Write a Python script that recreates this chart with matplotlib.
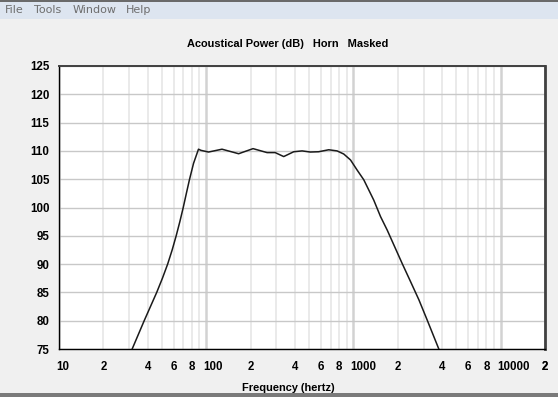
import matplotlib.pyplot as plt
import matplotlib.transforms as mtransforms
from matplotlib.patches import Rectangle

# Acoustical power of the horn (hertz, dB)
freq = [31.4, 34.5, 37.9, 41.8, 46.1, 50.4, 54.7, 58.7, 62.5, 66.2, 69.8,
        73.3, 76.9, 82, 88.6, 92, 103.7, 128,
        166, 208, 259, 294, 336, 393, 448, 509, 580, 679, 774, 859, 955,
        1060, 1175, 1374, 1527, 1696, 1880, 2143, 2443, 2782, 3170, 3800]
power = [75, 77.5, 80, 82.5, 85, 87.5, 90, 92.5, 95, 97.5, 100,
         102.5, 104.9, 107.8, 110.3, 110.1, 109.8, 110.3,
         109.5, 110.4, 109.7, 109.7, 109.0, 109.85, 110.0, 109.8, 109.85,
         110.2, 110.0, 109.45, 108.4, 106.6, 104.9, 101.3, 98.4, 96.0, 93.4,
         90.1, 86.9, 83.7, 80.1, 75]

decades = [10, 100, 1000, 10000]
decade_labels = ['10', '100', '1000', '10000']
minor_ticks = [m * d for d in decades for m in range(2, 10) if m * d <= 20000]
minor_labels = [str(m) if m in (2, 4, 6, 8) else ''
                for d in decades for m in range(2, 10) if m * d <= 20000]
y_ticks = [75, 80, 85, 90, 95, 100, 105, 110, 115, 120, 125]

W, H = 558, 397
BG = '#f0f0f0'
FONT = 'Liberation Sans'

fig = plt.figure(figsize=(W / 100, H / 100), dpi=100, facecolor=BG)

# window menu bar and bottom edge
fig.patches.append(Rectangle((0, 1 - 19 / H), 1, 19 / H, transform=fig.transFigure,
                             facecolor='#dde5f0', edgecolor='none', zorder=0))
fig.patches.append(Rectangle((0, 1 - 2 / H), 1, 2 / H, transform=fig.transFigure,
                             facecolor='#6a6a6a', edgecolor='none', zorder=1))
fig.patches.append(Rectangle((0, 0), 1, 4 / H, transform=fig.transFigure,
                             facecolor='#7a7a7a', edgecolor='none', zorder=0))
for name, x in [('File', 5), ('Tools', 34), ('Window', 73), ('Help', 126)]:
    fig.text(x / W, 1 - 10 / H, name, fontsize=8, family='DejaVu Sans',
             color='#6e6e6e', va='center', ha='left')

ax = fig.add_axes([59 / W, 48 / H, 486 / W, 283 / H])
ax.set_facecolor('white')

ax.plot(freq, power, color='#1a1a1a', lw=1.1, zorder=3)

ax.set_xscale('log')
ax.set_xlim(10, 20000)
ax.set_ylim(75, 125)

ax.set_xticks(decades, decade_labels)
ax.set_xticks(minor_ticks + [20000], minor_labels + ['2'], minor=True)
ax.set_yticks(y_ticks, [str(v) for v in y_ticks])

ax.tick_params(which='both', length=0, labelsize=8.3, pad=9)
ax.tick_params(axis='y', pad=7)
for lbl in ax.get_xticklabels(which='both') + ax.get_yticklabels():
    lbl.set_fontweight('bold')
    lbl.set_family(FONT)

# decade labels start at the grid line
shift = mtransforms.ScaledTranslation(-3 / 100, 0, fig.dpi_scale_trans)
for lbl in ax.get_xticklabels():
    lbl.set_ha('left')
    lbl.set_transform(lbl.get_transform() + shift)

ax.grid(axis='y', which='major', color='#c8c8c8', lw=1.0, zorder=0)
ax.grid(axis='x', which='minor', color='#e6e6e6', lw=1.2, zorder=0)
ax.grid(axis='x', which='major', color='#d2d2d2', lw=1.8, zorder=0)
ax.set_axisbelow(True)

ax.spines['left'].set_color('black')
ax.spines['bottom'].set_color('black')
ax.spines['left'].set_linewidth(1)
ax.spines['bottom'].set_linewidth(1)
ax.spines['top'].set_color('#404040')
ax.spines['top'].set_linewidth(1.4)
ax.spines['right'].set_color('#404040')
ax.spines['right'].set_linewidth(2)

fig.text(288 / W, 1 - 44 / H, 'Acoustical Power (dB)   Horn   Masked',
         ha='center', va='center', fontsize=7.9, fontweight='bold', family=FONT)
fig.text(288 / W, 1 - 388 / H, 'Frequency (hertz)',
         ha='center', va='center', fontsize=7.9, fontweight='bold', family=FONT)

fig.savefig('out.png', dpi=100, facecolor=BG)
